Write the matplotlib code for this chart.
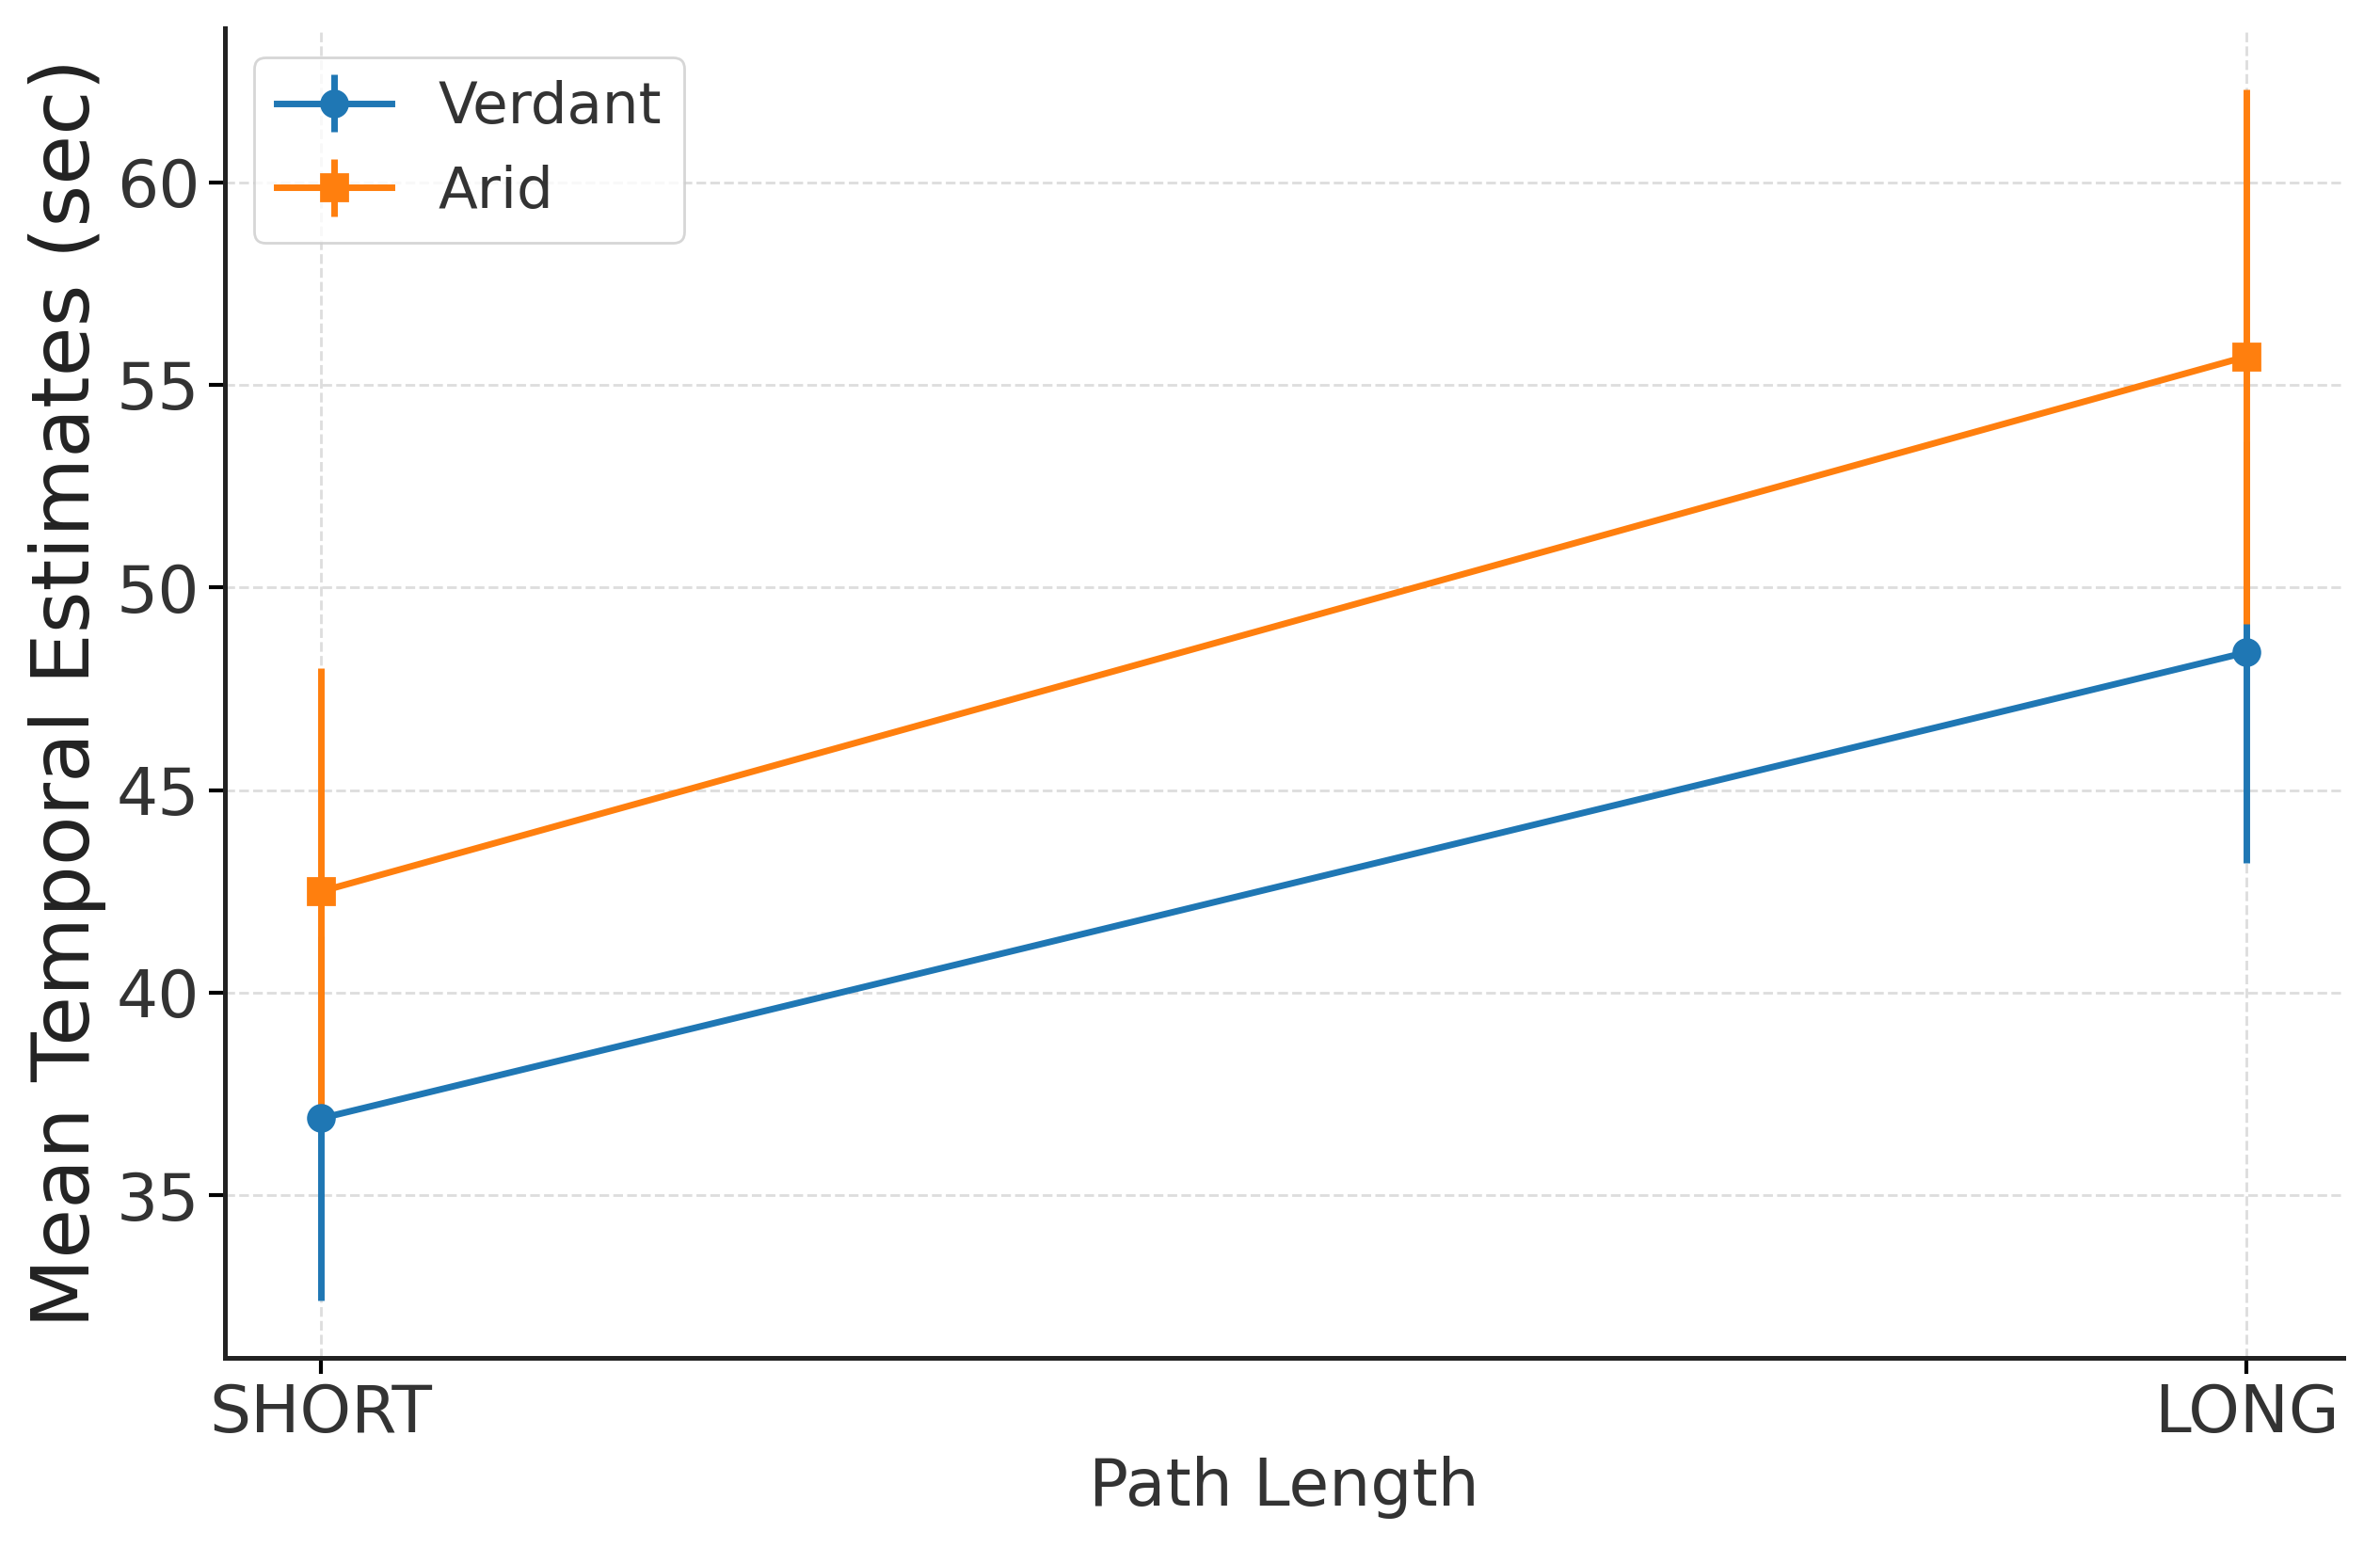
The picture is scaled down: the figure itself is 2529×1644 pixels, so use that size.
import matplotlib.pyplot as plt

# data
conditions = ["SHORT", "LONG"]
verdant_mean = [36.9, 48.4]
verdant_err = [4.5, 5.2]
arid_mean = [42.5, 55.7]
arid_err = [5.5, 6.6]

fig, ax = plt.subplots(figsize=(12.645, 8.22), dpi=200)
x = range(len(conditions))

ax.errorbar(x, verdant_mean, yerr=verdant_err, marker="o", markersize=10,
            linewidth=2.5, elinewidth=2.5, color="#1f77b4", label="Verdant")
ax.errorbar(x, arid_mean, yerr=arid_err, marker="s", markersize=10,
            linewidth=2.5, elinewidth=2.5, color="#ff7f0e", label="Arid")

ax.set_xticks(list(x))
ax.set_xticklabels(conditions)
ax.set_xlim(-0.05, 1.05)
ax.set_ylim(31.0, 63.8)
ax.set_yticks([35, 40, 45, 50, 55, 60])
ax.tick_params(labelsize=25, width=1.5, length=6, labelcolor="#333333")

ax.set_xlabel("Path Length", fontsize=25, color="#333333")
ax.set_ylabel("Mean Temporal Estimates (sec)", fontsize=31, color="#222222")

ax.grid(True, linestyle="--", color="#dddddd", linewidth=1)
for s in ["top", "right"]:
    ax.spines[s].set_visible(False)
for s in ["left", "bottom"]:
    ax.spines[s].set_linewidth(1.8)
    ax.spines[s].set_color("#222222")

leg = ax.legend(loc="upper left", fontsize=22)
for t in leg.get_texts():
    t.set_color("#333333")
plt.tight_layout()
plt.savefig("out.png", dpi=200)
